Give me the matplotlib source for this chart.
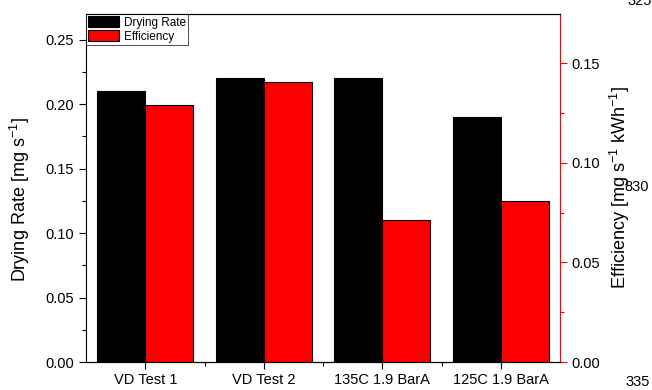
import matplotlib.pyplot as plt
import numpy as np
from matplotlib.ticker import MultipleLocator, FixedLocator

plt.rcParams['font.family'] = ['Liberation Sans', 'DejaVu Sans']
plt.rcParams['mathtext.fontset'] = 'custom'
plt.rcParams['mathtext.rm'] = 'Liberation Sans'
plt.rcParams['mathtext.it'] = 'Liberation Sans'

# test conditions and measured values
conditions = ['VD Test 1', 'VD Test 2', '135C 1.9 BarA', '125C 1.9 BarA']
drying_rate = [0.21, 0.22, 0.22, 0.19]
efficiency = [0.129, 0.1405, 0.071, 0.081]

x = np.arange(len(conditions))
w = 0.405

fig = plt.figure(figsize=(6.52, 3.9), dpi=100)
ax = fig.add_axes([86 / 652, 28 / 390, 474 / 652, 348 / 390])
ax2 = ax.twinx()

b1 = ax.bar(x - w / 2, drying_rate, w, color='black', edgecolor='black', linewidth=0.8, label='Drying Rate')
b2 = ax2.bar(x + w / 2, efficiency, w, color='#ff0000', edgecolor='black', linewidth=0.8, label='Efficiency')

ax.set_xlim(-0.5, 3.5)
ax.set_ylim(0, 0.27)
ax2.set_ylim(0, 0.1746)

ax.set_xticks(x)
ax.set_xticklabels(conditions, fontsize=10)
ax.xaxis.set_minor_locator(FixedLocator(x[:-1] + 0.5))
ax.yaxis.set_major_locator(MultipleLocator(0.05))
ax.yaxis.set_minor_locator(MultipleLocator(0.025))
ax2.yaxis.set_major_locator(MultipleLocator(0.05))
ax2.yaxis.set_minor_locator(MultipleLocator(0.025))

ax.tick_params(axis='both', which='both', direction='out', labelsize=10.5, width=0.8)
ax.tick_params(axis='x', which='major', length=5, pad=3)
ax.tick_params(axis='x', which='minor', length=3)
ax.tick_params(axis='y', which='major', length=5)
ax.tick_params(axis='y', which='minor', length=3)
ax2.tick_params(axis='y', which='both', direction='out', colors='red', labelcolor='black', labelsize=10.5, width=0.8)
ax2.tick_params(axis='y', which='major', length=5)
ax2.tick_params(axis='y', which='minor', length=3)
ax.yaxis.set_major_formatter(plt.FormatStrFormatter('%.2f'))
ax2.yaxis.set_major_formatter(plt.FormatStrFormatter('%.2f'))

for s in ax.spines.values():
    s.set_linewidth(0.8)
for s in ax2.spines.values():
    s.set_linewidth(0.8)
ax2.spines['right'].set_color('red')
ax2.spines['left'].set_visible(False)

ax.set_ylabel('Drying Rate [mg s$^{-1}$]', fontsize=13)
ax.yaxis.set_label_coords(-0.114, 0.466)
ax2.set_ylabel('Efficiency [mg s$^{-1}$ kWh$^{-1}$]', fontsize=13, labelpad=5)

leg = ax.legend([b1, b2], ['Drying Rate', 'Efficiency'], loc='upper left', fontsize=8.5,
                frameon=True, fancybox=False, edgecolor='black', borderaxespad=0,
                handlelength=2.6, handleheight=1.0, borderpad=0.2, labelspacing=0.15,
                handletextpad=0.4)
leg.get_frame().set_linewidth(0.6)

# page numbers from the source document
fig.text(627 / 652, 1 - 1 / 390, '325', fontsize=10.5, va='center', ha='left')
fig.text(624 / 652, 1 - 187 / 390, '830', fontsize=10.5, va='center', ha='left')
fig.text(650 / 652, 1 - 382 / 390, '335', fontsize=10.5, va='center', ha='right')

fig.savefig('out.png', dpi=100)
